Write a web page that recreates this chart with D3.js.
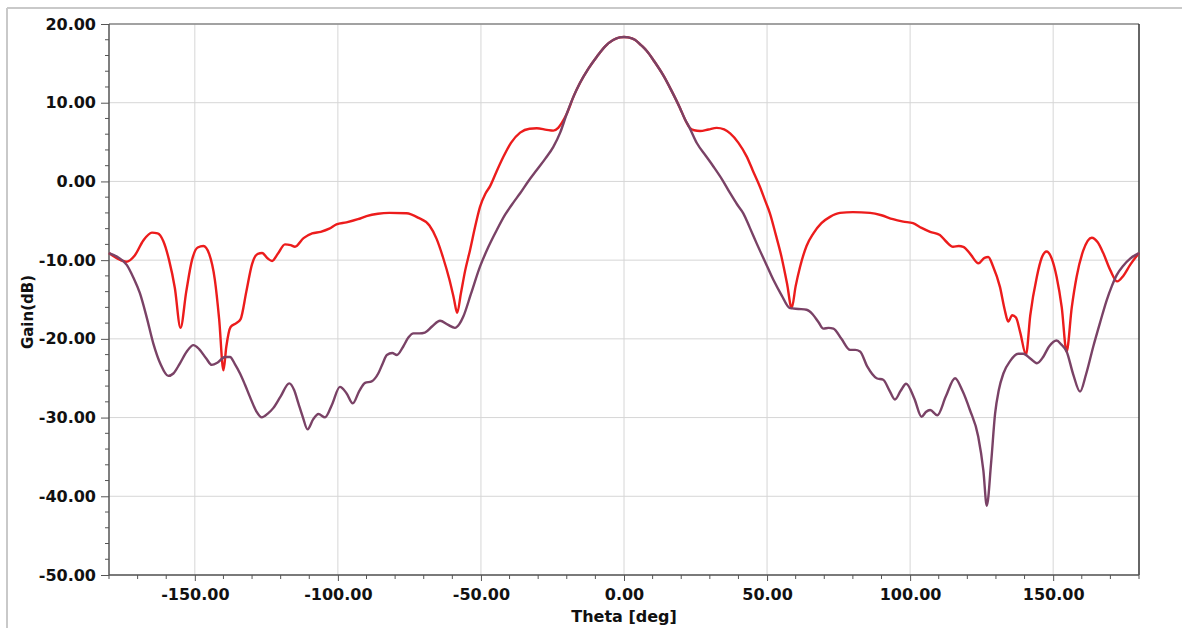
<!DOCTYPE html>
<html>
<head>
<meta charset="utf-8">
<script src="https://cdn.jsdelivr.net/npm/d3@7/dist/d3.min.js"></script>
<style>
  html, body { margin: 0; padding: 0; background: #fff; }
  svg { display: block; }
  .tick text { font-family: "DejaVu Sans", sans-serif; font-weight: bold; font-size: 16px; fill: #111; }
</style>
</head>
<body>
<svg id="chart" width="1182" height="628"></svg>
<script>
// ---- data ----
const xTicks = [-150, -100, -50, 0, 50, 100, 150];
const yTicks = [20, 10, 0, -10, -20, -30, -40, -50];

const redTheta = [-180,-177,-174,-171,-168,-165,-163,-161,-159,-157,-155,-153,-151,-149,-147,-145,-143,-141.5,-140,-139,-137.5,-135.5,-134,-132,-130,-128,-126.5,-124.5,-123,-121,-118.5,-116.5,-115,-112,-109,-106,-103,-100.5,-97,-93,-90,-86,-82,-76,-72,-68,-65.5,-63.3,-61,-59.5,-58.3,-57,-55.5,-53.8,-52,-50.3,-48.5,-46.8,-44.5,-42.2,-39.5,-36.3,-33,-30.5,-27,-24.7,-23,-21.8,-20,-17.5,-15.4,-12.5,-9.5,-6.5,-3.8,-1.5,0,1.5,3.8,6,7.9,10.5,13.7,16.5,19.6,21.3,22.8,24.5,26.6,29.5,32.4,35,37.1,40,42.9,45,47.5,49.5,51,53,55,57,58.6,60,61.5,63.8,66.2,69,72,75.5,80,86,90,94,97.6,101,104,107,110.4,112.5,115,117,118.6,121,123.9,126,127.3,129,131.4,133,134.3,135.7,137,138.5,140.5,142,144.3,146,147.7,149.5,151.2,153,154.7,156.5,158.2,160.5,163.5,165.5,167.5,170,172.4,174.5,176.9,180];
const redGain = [-9.1,-9.8,-10.2,-9.4,-7.5,-6.5,-6.6,-7.6,-10,-13.5,-18.6,-14,-10,-8.4,-8.2,-9.2,-12.5,-17.5,-24,-21,-18.5,-18,-17.5,-14,-10.5,-9.2,-9.1,-9.8,-10.1,-9.2,-8,-8.1,-8.3,-7.2,-6.6,-6.4,-6.0,-5.45,-5.2,-4.8,-4.4,-4.1,-4.0,-4.05,-4.6,-5.6,-7.3,-9.6,-12.5,-14.8,-16.7,-14.2,-11.3,-8.7,-5.7,-3.2,-1.6,-0.6,1.3,3.1,4.9,6.2,6.7,6.75,6.55,6.45,6.8,7.4,8.6,10.9,12.5,14.3,15.85,17.2,17.97,18.3,18.35,18.3,18.0,17.3,16.6,15.3,13.5,11.6,9.3,7.9,6.9,6.5,6.4,6.6,6.8,6.6,6.1,4.9,3.15,1.4,-0.67,-2.6,-4.05,-6.7,-9.5,-13,-16.1,-13.3,-10.9,-8.2,-6.6,-5.3,-4.5,-4.0,-3.9,-4.0,-4.3,-4.8,-5.1,-5.3,-5.9,-6.4,-6.8,-7.6,-8.3,-8.2,-8.3,-9.2,-10.4,-9.7,-9.6,-10.8,-13.4,-16.2,-17.8,-17.0,-17.3,-19.2,-22.0,-17,-12.1,-9.7,-8.9,-9.8,-12.1,-16,-21.6,-16,-12.1,-8.8,-7.15,-7.7,-9.1,-11.3,-12.7,-12,-10.6,-9.1];

const purpleTheta = [-180,-177,-173.8,-171.5,-169.2,-166.8,-164.5,-162,-159.3,-157.5,-155.2,-152.8,-150.5,-148.5,-146,-144.1,-142,-139.5,-137.7,-136,-134.2,-132.5,-130.7,-128.5,-126.6,-124.5,-122.6,-120,-117,-115.3,-113.8,-112.2,-110.6,-108.6,-106.8,-104.5,-102,-99.3,-97,-94.8,-92.5,-90.5,-88.2,-85.9,-84.3,-82.9,-81,-79.4,-77.2,-75.3,-73.6,-71.5,-69.6,-67,-64.3,-61.6,-59.1,-57.5,-56.2,-53.5,-50.3,-47.5,-44.5,-41.5,-38.5,-36.3,-33.5,-30.5,-27.5,-24.7,-22.3,-20,-17.5,-15.4,-12.5,-9.5,-6.5,-3.8,-1.5,0,1.5,3.8,6,7.9,10.5,13.7,16.5,19.6,21.3,22.8,25.5,28.5,31.3,34.2,37.1,39.5,41.7,44,46.4,49.3,52.2,55,58,61,63.8,66,68,69.7,71.5,73.2,76,79,80.8,82.5,85,88.3,90.6,92.7,94.7,96.7,98.6,101.5,104,105.5,107,109.5,112.5,115.7,118.3,120.9,123.8,125.6,126.8,128.3,129.7,131,132.6,135,137.8,139.6,142,144.3,146.5,148.5,151.2,152.8,154.7,157,159.4,161.5,164,166.5,168.7,170.5,172.2,174.5,176.9,180];
const purpleGain = [-9.1,-9.6,-10.6,-12.2,-14.2,-17.3,-20.6,-23.2,-24.7,-24.4,-23.1,-21.6,-20.8,-21.3,-22.5,-23.3,-23.0,-22.3,-22.3,-23.2,-24.4,-25.8,-27.4,-29.2,-29.97,-29.5,-28.8,-27.3,-25.65,-26.5,-28.2,-30,-31.5,-30.2,-29.55,-29.97,-28.3,-26.1,-26.9,-28.2,-26.6,-25.6,-25.4,-24.4,-23.1,-22.05,-21.8,-22.05,-21.0,-19.8,-19.3,-19.3,-19.2,-18.4,-17.7,-18.2,-18.6,-18.1,-17.2,-14.3,-10.8,-8.4,-6.2,-4.2,-2.6,-1.5,0,1.45,2.9,4.4,6.2,8.6,10.9,12.5,14.3,15.85,17.2,17.97,18.3,18.35,18.3,18.0,17.3,16.6,15.3,13.5,11.6,9.3,7.9,6.9,4.85,3.3,1.87,0.3,-1.5,-2.9,-4.05,-5.9,-7.9,-10.2,-12.5,-14.4,-16.1,-16.2,-16.3,-16.9,-17.9,-18.7,-18.6,-18.7,-20,-21.4,-21.4,-21.6,-23.5,-25.0,-25.2,-26.5,-27.7,-26.6,-25.7,-27.6,-29.9,-29.3,-29.04,-29.7,-27.3,-25.0,-26.6,-29.04,-32.4,-36.7,-41.2,-35.8,-29.5,-26.5,-24.4,-22.8,-21.9,-21.9,-22.5,-23.1,-22.3,-21.0,-20.2,-20.7,-21.6,-24.5,-26.7,-24.5,-21.0,-17.8,-15.1,-13.3,-11.9,-10.7,-9.8,-9.1];

const xLabel = "Theta [deg]";
const yLabel = "Gain(dB)";

// ---- layout ----
const svg = d3.select("#chart");
const L = 109, T = 24, R = 1139, B = 575;

const x = d3.scaleLinear().domain([-180, 180]).range([L, R]);
const y = d3.scaleLinear().domain([-50, 20]).range([B, T]);
const fmt = d => d.toFixed(2);

// outer frame
svg.append("line").attr("x1", 7).attr("x2", 1182).attr("y1", 8).attr("y2", 8)
  .attr("stroke", "#c9c9c9").attr("stroke-width", 2);
svg.append("line").attr("x1", 7).attr("x2", 7).attr("y1", 8).attr("y2", 628)
  .attr("stroke", "#c9c9c9").attr("stroke-width", 2);

// grid
const grid = svg.append("g");
grid.selectAll("line.gx").data(xTicks).join("line")
  .attr("x1", d => x(d)).attr("x2", d => x(d)).attr("y1", T).attr("y2", B)
  .attr("stroke", "#d6d6d6").attr("stroke-width", 1);
grid.selectAll("line.gy").data(yTicks).join("line")
  .attr("x1", L).attr("x2", R).attr("y1", d => y(d)).attr("y2", d => y(d))
  .attr("stroke", "#d6d6d6").attr("stroke-width", 1);

// plot frame top and right
svg.append("line").attr("x1", L).attr("x2", R).attr("y1", T).attr("y2", T)
  .attr("stroke", "#8a8a8a").attr("stroke-width", 1.5);
svg.append("line").attr("x1", R).attr("x2", R).attr("y1", T).attr("y2", B)
  .attr("stroke", "#333").attr("stroke-width", 1.5);

// minor ticks
const yMinor = d3.range(-50, 20.01, 2).filter(v => v % 10 !== 0);
svg.append("g").selectAll("line").data(yMinor).join("line")
  .attr("x1", L - 4).attr("x2", L).attr("y1", d => y(d)).attr("y2", d => y(d))
  .attr("stroke", "#555").attr("stroke-width", 1);
const xMinor = d3.range(-180, 180.01, 10).filter(v => v % 50 !== 0);
svg.append("g").selectAll("line").data(xMinor).join("line")
  .attr("x1", d => x(d)).attr("x2", d => x(d)).attr("y1", B).attr("y2", B + 4)
  .attr("stroke", "#555").attr("stroke-width", 1);

// axes
const xAxis = d3.axisBottom(x).tickValues(xTicks).tickFormat(fmt).tickSize(6).tickPadding(8);
const yAxis = d3.axisLeft(y).tickValues(yTicks).tickFormat(fmt).tickSize(8).tickPadding(5);
const gx = svg.append("g").attr("transform", `translate(0,${B})`).call(xAxis);
const gy = svg.append("g").attr("transform", `translate(${L},0)`).call(yAxis);
[gx, gy].forEach(g => {
  g.select(".domain").attr("stroke", "#555").attr("stroke-width", 1.5);
  g.selectAll(".tick line").attr("stroke", "#555").attr("stroke-width", 1);
});
gx.select(".domain").attr("d", `M${L},0H${R}`);
gy.select(".domain").attr("d", `M0,${T}V${B}`);

// axis titles
svg.append("text").attr("x", 624).attr("y", 622).attr("text-anchor", "middle")
  .attr("font-family", "DejaVu Sans, sans-serif").attr("font-weight", "bold")
  .attr("font-size", 16).attr("fill", "#111").text(xLabel);
svg.append("text").attr("transform", "translate(33,312) rotate(-90)").attr("text-anchor", "middle")
  .attr("font-family", "DejaVu Sans, sans-serif").attr("font-weight", "bold")
  .attr("font-size", 15).attr("fill", "#111").text(yLabel);

// curves
const line = d3.line().x(d => x(d[0])).y(d => y(d[1])).curve(d3.curveMonotoneX);
const red = redTheta.map((t, i) => [t, redGain[i]]);
const purple = purpleTheta.map((t, i) => [t, purpleGain[i]]);
const plot = svg.append("g");
plot.append("path").datum(red).attr("d", line).attr("fill", "none")
  .attr("stroke", "#ec1c1c").attr("stroke-width", 2.4).attr("stroke-linejoin", "round");
plot.append("path").datum(purple).attr("d", line).attr("fill", "none")
  .attr("stroke", "#7a4266").attr("stroke-width", 2.4).attr("stroke-linejoin", "round");
</script>
</body>
</html>
